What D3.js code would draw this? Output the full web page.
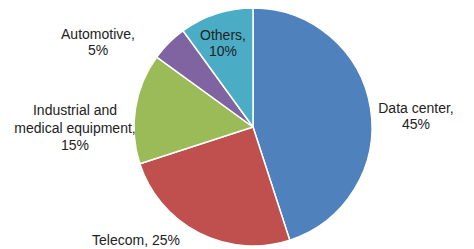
<!DOCTYPE html>
<html><head><meta charset="utf-8">
<script src="https://cdn.jsdelivr.net/npm/d3@7"></script>
<style>
html,body{margin:0;padding:0;background:#fff;}
svg{display:block;}
text{font-family:"Liberation Sans",Arial,sans-serif;font-size:14px;fill:#222;}
</style></head>
<body>
<script>
const categories = ["Data center", "Telecom", "Industrial and medical equipment", "Automotive", "Others"];
const values = [45, 25, 15, 5, 10];
const labelLines = [
  ["Data center,", "45%"],
  ["Telecom, 25%"],
  ["Industrial and", "medical equipment,", "15%"],
  ["Automotive,", "5%"],
  ["Others,", "10%"]
];
const colors = ["#4F81BD", "#C0504D", "#9BBB59", "#8064A2", "#4BACC6"];

// layout (label anchor = centre x, first baseline y)
const labelPos = [[416, 113], [136, 245], [75, 115], [98, 39], [223, 40]];
const lineH = [16, 16, 17.5, 16, 16];

const W = 474, H = 249, cx = 253, cy = 127, R = 119;
const svg = d3.select("body").append("svg").attr("width", W).attr("height", H);
const g = svg.append("g").attr("transform", `translate(${cx},${cy})`);

const pie = d3.pie().sort(null).value(d => d)(values);
const arc = d3.arc().innerRadius(0).outerRadius(R);

g.selectAll("path").data(pie).enter().append("path")
  .attr("d", arc)
  .attr("fill", (d, i) => colors[i])
  .attr("stroke", "#fff").attr("stroke-width", 1.5);

const lab = svg.selectAll("text.lab").data(labelLines).enter().append("text")
  .attr("class", "lab").attr("text-anchor", "middle");
lab.each(function(lines, i) {
  const t = d3.select(this);
  lines.forEach((s, j) => {
    t.append("tspan").attr("x", labelPos[i][0]).attr("y", labelPos[i][1] + j * lineH[i]).text(s);
  });
});
</script>
</body></html>
